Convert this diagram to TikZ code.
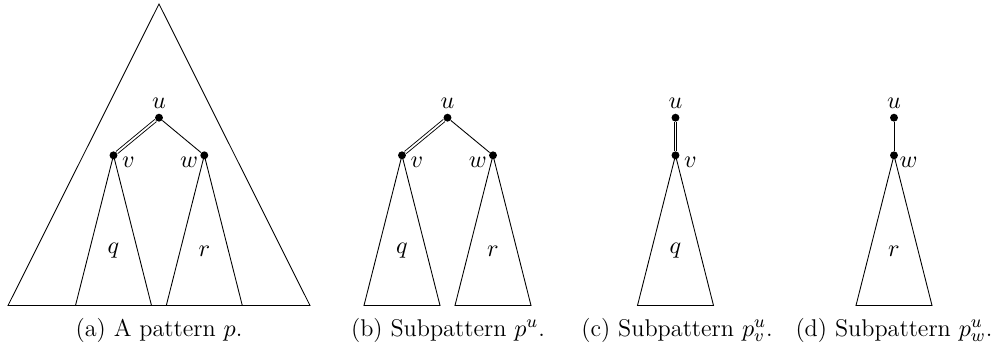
\documentclass[tikz,border=0pt]{standalone}
\begin{document}
\begin{tikzpicture}[x=0.4545pt,y=-0.4545pt,
  every node/.style={font=\fontsize{11}{13}\selectfont},
  dot/.style={circle,fill,inner sep=0pt,minimum size=3.6pt},
  lab/.style={inner sep=0pt},
  dbl/.style={double,double distance=0.8pt},
  tri/.style={line join=miter}]
\useasboundingbox (0,0) rectangle (999,350);
% ---------- (a)
\coordinate (A0) at (159,4);
\coordinate (A1) at (8,305.5);
\coordinate (A2) at (310,305.5);
\draw[tri] (A1) -- (A0) -- (A2) -- cycle;
\node[dot] (au) at (159,117.7) {};
\node[dot] (av) at (113.5,155.3) {};
\node[dot] (aw) at (204.3,155.3) {};
\draw[dbl] (au) -- (av);
\draw (au) -- (aw);
\coordinate (aq1) at (75.5,305.5);
\coordinate (aq2) at (151.5,305.5);
\coordinate (ar1) at (166.3,305.5);
\coordinate (ar2) at (242.3,305.5);
\draw[tri] (av.center) -- (aq1) -- (aq2) -- cycle;
\draw[tri] (aw.center) -- (ar1) -- (ar2) -- cycle;
\node[lab] (aul) at (159,103.3) {$u$};
\node[lab] (avl) at (128.5,162) {$v$};
\node[lab] (awl) at (189,162) {$w$};
\node[lab] (aql) at (113.5,251) {$q$};
\node[lab] (arl) at (204.3,251) {$r$};
\node[lab] (acap) at (159,330) {(a) A pattern $p$.};
% ---------- (b)
\node[dot] (bu) at (447.5,117.7) {};
\node[dot] (bv) at (402,155.3) {};
\node[dot] (bw) at (493,155.3) {};
\draw[dbl] (bu) -- (bv);
\draw (bu) -- (bw);
\coordinate (bq1) at (364,305.5);
\coordinate (bq2) at (440,305.5);
\coordinate (br1) at (455,305.5);
\coordinate (br2) at (531,305.5);
\draw[tri] (bv.center) -- (bq1) -- (bq2) -- cycle;
\draw[tri] (bw.center) -- (br1) -- (br2) -- cycle;
\node[lab] (bul) at (447.5,103.3) {$u$};
\node[lab] (bvl) at (417,162) {$v$};
\node[lab] (bwl) at (477.7,162) {$w$};
\node[lab] (bql) at (402,251) {$q$};
\node[lab] (brl) at (493,251) {$r$};
\node[lab] (bcap) at (448,330) {(b) Subpattern $p^u$.};
% ---------- (c)
\node[dot] (cu) at (675.5,117.7) {};
\node[dot] (cv) at (675.5,155.3) {};
\draw[dbl] (cu) -- (cv);
\coordinate (cq1) at (637.5,305.5);
\coordinate (cq2) at (713.5,305.5);
\draw[tri] (cv.center) -- (cq1) -- (cq2) -- cycle;
\node[lab] (cul) at (675.5,103.3) {$u$};
\node[lab] (cvl) at (690.5,162) {$v$};
\node[lab] (cql) at (675.5,251) {$q$};
\node[lab] (ccap) at (677,330) {(c) Subpattern $p^u_v$.};
% ---------- (d)
\node[dot] (du) at (894,117.7) {};
\node[dot] (dw) at (894,155.3) {};
\draw (du) -- (dw);
\coordinate (dr1) at (856,305.5);
\coordinate (dr2) at (932,305.5);
\draw[tri] (dw.center) -- (dr1) -- (dr2) -- cycle;
\node[lab] (dul) at (894,103.3) {$u$};
\node[lab] (dwl) at (908.5,162) {$w$};
\node[lab] (drl) at (894,251) {$r$};
\node[lab] (dcap) at (894,330) {(d) Subpattern $p^u_w$.};
\end{tikzpicture}
\end{document}
